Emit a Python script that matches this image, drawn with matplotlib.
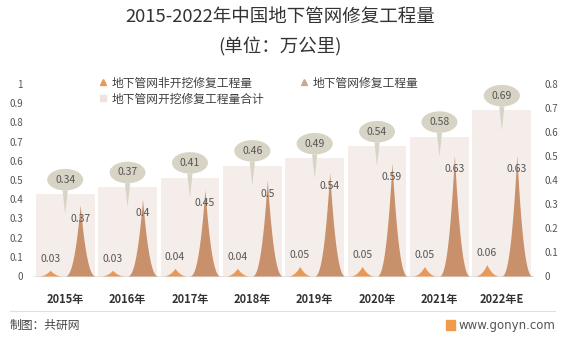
import matplotlib
matplotlib.use("Agg")
import matplotlib.pyplot as plt
import matplotlib.transforms as mtransforms
from matplotlib.lines import Line2D
from matplotlib.patches import Rectangle
import numpy as np

plt.rcParams['font.family'] = ['Noto Sans CJK SC', 'DejaVu Sans']

years = ['2015年', '2016年', '2017年', '2018年', '2019年', '2020年', '2021年', '2022年E']
total = [0.34, 0.37, 0.41, 0.46, 0.49, 0.54, 0.58, 0.69]        # 开挖修复工程量合计 (right axis)
trenchless = [0.03, 0.03, 0.04, 0.04, 0.05, 0.05, 0.05, 0.06]   # 非开挖修复工程量 (left axis)
repair = [0.37, 0.4, 0.45, 0.5, 0.54, 0.59, 0.63, 0.63]         # 修复工程量 (left axis)

c_bar = '#f5edea'
c_small = '#e8995a'
c_big = '#c9916b'
c_bubble = '#d7d4c5'
c_text = '#555555'

W, H = 565, 338
fig = plt.figure(figsize=(W / 100, H / 100), dpi=100)
ax = fig.add_axes([34 / W, (H - 276) / H, (533 - 34) / W, (276 - 84) / H])
ax2 = ax.twinx()

x = np.arange(len(years))
ax2.bar(x, total, width=0.94, color=c_bar, zorder=1)
ax2.set_ylim(0, 0.8)
ax.set_ylim(0, 1)
ax.set_xlim(-0.5, len(years) - 0.5)
# peaks on top of bars
ax.set_zorder(ax2.get_zorder() + 1)
ax.patch.set_visible(False)


def peak(cx, h, hw, color):
    t = np.linspace(-1, 1, 201)
    ax.fill_between(cx + t * hw, 0, h * (1 - np.abs(t)) ** 2.4, color=color, lw=0, zorder=3)


for i in range(len(years)):
    peak(x[i] - 0.24, trenchless[i], 0.21, c_small)
    peak(x[i] + 0.24, repair[i], 0.25, c_big)
    ax.annotate(f'{trenchless[i]:g}', (x[i] - 0.24, trenchless[i]), xytext=(0, 8),
                textcoords='offset points', ha='center', va='center', fontsize=7.5,
                color=c_text, zorder=5)
    ax.annotate(f'{repair[i]:g}', (x[i] + 0.24, repair[i]), xytext=(0, -10),
                textcoords='offset points', ha='center', va='center', fontsize=7.5,
                color=c_text, zorder=5)
    tip = ax2.transData + mtransforms.ScaledTranslation(0, -20 / 100, fig.dpi_scale_trans)
    ax2.annotate(f'{total[i]:g}', (x[i], total[i]), xycoords=tip, xytext=(0, 25),
                 textcoords='offset points', ha='center', va='center', fontsize=7.5,
                 color=c_text, zorder=6,
                 bbox=dict(boxstyle='ellipse,pad=0.25', fc=c_bubble, ec='none'),
                 arrowprops=dict(arrowstyle='wedge,tail_width=0.5', fc=c_bubble,
                                 ec='none', shrinkA=0, shrinkB=0))

for a in (ax, ax2):
    for s in a.spines.values():
        s.set_visible(False)
ax.spines['bottom'].set_visible(True)
ax.spines['bottom'].set_color('#e3e3e3')

ax.set_yticks(np.arange(0, 1.01, 0.1))
ax.set_yticklabels([f'{v:g}' for v in np.arange(0, 1.01, 0.1).round(1)])
ax2.set_yticks(np.arange(0, 0.81, 0.1))
ax2.set_yticklabels([f'{v:g}' for v in np.arange(0, 0.81, 0.1).round(1)])
ax.tick_params(axis='y', length=0, pad=8, labelsize=7, labelcolor=c_text)
ax2.tick_params(axis='y', length=0, pad=8, labelsize=7, labelcolor=c_text)
ax.set_xticks(x)
ax.set_xticklabels(years, fontsize=8, fontweight='bold', color='#333333')
ax.tick_params(axis='x', length=0, pad=12)

fig.text(280 / W, 1 - 18 / H, '2015-2022年中国地下管网修复工程量', ha='center', va='center',
         fontsize=13.3, color='#333333')
fig.text(280 / W, 1 - 47 / H, '(单位：万公里)', ha='center', va='center',
         fontsize=13.3, color='#333333')

handles = [
    Line2D([], [], ls='none', marker='^', ms=4, color=c_small, label='地下管网非开挖修复工程量'),
    Line2D([], [], ls='none', marker='s', ms=4, color='#ede4e1', label='地下管网开挖修复工程量合计'),
    Line2D([], [], ls='none', marker='^', ms=4, color='#c9a98f', label='地下管网修复工程量'),
]
fig.legend(handles=handles, ncol=2, loc='upper left', bbox_to_anchor=(89 / W, 1 - 66 / H),
           frameon=False, fontsize=8.5, handlelength=0.6, handletextpad=0.4,
           columnspacing=3.1, labelspacing=0.25, labelcolor='#404040')

fig.add_artist(Line2D([10 / W, 555 / W], [1 - 311 / H, 1 - 311 / H], color='#e0e0e0', lw=0.8))
fig.text(10 / W, 1 - 325 / H, '制图：共研网', ha='left', va='center', fontsize=8.5, color='#444444')
fig.text(555 / W, 1 - 325 / H, 'www.gonyn.com', ha='right', va='center', fontsize=8.5,
         color='#555555', family='DejaVu Sans')
fig.add_artist(Rectangle((446 / W, 1 - 330 / H), 9 / W, 10 / H, color='#f19a4a',
                         transform=fig.transFigure))

fig.savefig('out.png', dpi=100)
